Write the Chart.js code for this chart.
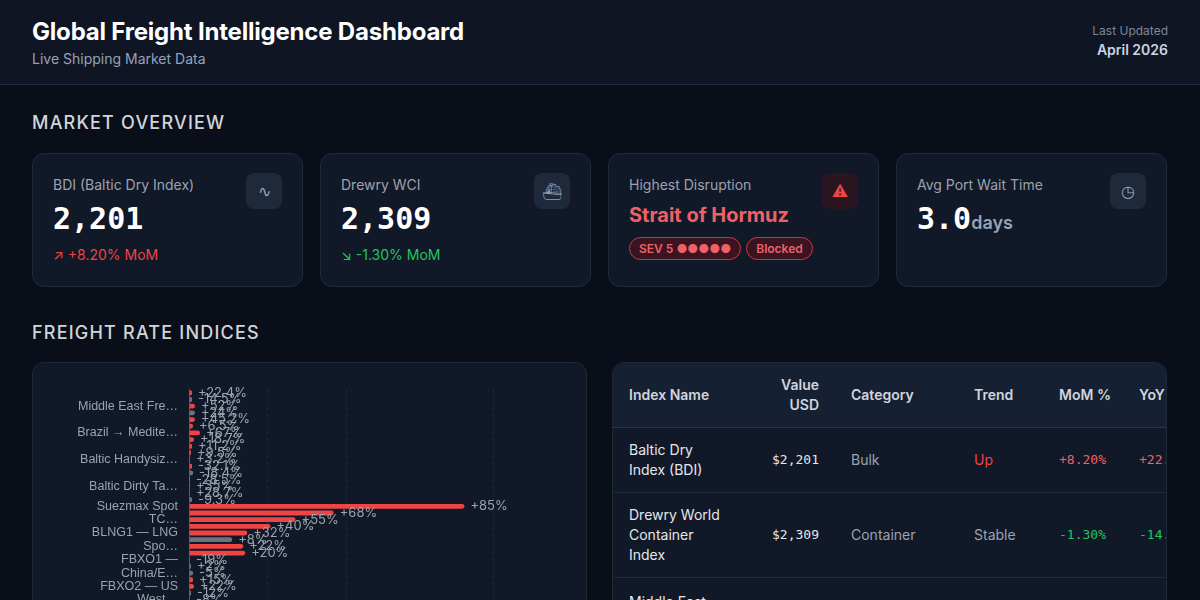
<!DOCTYPE html>
<html>
<head>
<meta charset="utf-8">
<script src="https://cdn.jsdelivr.net/npm/chart.js@4"></script>
<style>
  * { box-sizing: border-box; margin: 0; padding: 0; }
  body { width: 1200px; height: 600px; overflow: hidden; background: #0a0e19; font-family: Inter, "Noto Sans", sans-serif; color: #e5e7eb; }
  header { height: 85px; background: #0f1523; border-bottom: 1px solid #1e293b; padding: 17px 32px; display: flex; justify-content: space-between; }
  h1 { font-size: 24px; font-weight: 700; color: #fff; letter-spacing: -0.2px; }
  .sub { font-size: 14px; color: #94a3b8; margin-top: 4px; }
  .upd { text-align: right; padding-top: 6px; }
  .upd .l { font-size: 12px; color: #7c8798; }
  .upd .d { font-size: 14px; color: #cbd5e1; font-weight: 600; margin-top: 3px; }
  main { padding: 0 32px; }
  h2 { font-size: 18px; font-weight: 500; letter-spacing: 1.2px; color: #d1d5db; margin-top: 27px; height: 20px; }
  .cards { display: grid; grid-template-columns: repeat(4, 271px); gap: 17px; margin-top: 21px; }
  .card { height: 134px; background: #111827; border: 1px solid #1f2937; border-radius: 12px; padding: 22px 20px; position: relative; }
  .card .t { font-size: 14px; color: #9ca3af; }
  .card .v { font-family: "DejaVu Sans Mono", monospace; font-size: 30px; font-weight: 700; color: #fff; margin-top: 8px; }
  .card .v small { font-family: Inter, sans-serif; font-size: 18px; color: #94a3b8; font-weight: 600; }
  .card .c { font-size: 14px; margin-top: 10px; }
  .icon { position: absolute; right: 20px; top: 19px; width: 36px; height: 36px; border-radius: 8px; background: #1e293b; color: #94a3b8; display: flex; align-items: center; justify-content: center; font-size: 16px; }
  .red { color: #ef4444; } .green { color: #22c55e; }
  .hz { font-size: 20px; font-weight: 700; color: #f06166; margin-top: 10px; }
  .pill { display: inline-block; font-size: 12px; color: #f06166; border: 1px solid #c33b42; background: #3a1420; border-radius: 12px; padding: 3px 9px; margin-top: 10px; margin-right: 5px; font-weight: 600; }
  .row { display: flex; gap: 25px; margin-top: 20px; }
  .box { background: #111827; border: 1px solid #1f2937; border-radius: 12px; height: 320px; }
  .chartbox { width: 555px; position: relative; }
  .chartwrap { position: absolute; left: 0; top: 16px; width: 555px; height: 288px; }
  .tablebox { width: 555px; overflow: hidden; }
  table { border-collapse: collapse; font-size: 14px; width: 680px; table-layout: fixed; }
  th { text-align: left; background: #152033; font-weight: 600; color: #d1d5db; height: 64px; padding: 0 16px; border-bottom: 1px solid #2a3648; white-space: nowrap; }
  td { padding: 0 16px; color: #e5e7eb; border-bottom: 1px solid #1f2937; line-height: 20px; }
  .mono { font-family: "DejaVu Sans Mono", monospace; font-size: 13px; white-space: nowrap; }
</style>
</head>
<body>
<header>
  <div><h1>Global Freight Intelligence Dashboard</h1><div class="sub">Live Shipping Market Data</div></div>
  <div class="upd"><div class="l">Last Updated</div><div class="d">April 2026</div></div>
</header>
<main>
  <h2>MARKET OVERVIEW</h2>
  <div class="cards">
    <div class="card"><div class="t">BDI (Baltic Dry Index)</div><div class="v">2,201</div><div class="c red">↗ +8.20% MoM</div><div class="icon">∿</div></div>
    <div class="card"><div class="t">Drewry WCI</div><div class="v">2,309</div><div class="c green">↘ -1.30% MoM</div><div class="icon">⛴</div></div>
    <div class="card"><div class="t">Highest Disruption</div><div class="hz">Strait of Hormuz</div><span class="pill">SEV 5 ●●●●●</span><span class="pill">Blocked</span><div class="icon" style="background:#2a1520;color:#ef4444">⚠</div></div>
    <div class="card"><div class="t">Avg Port Wait Time</div><div class="v">3.0<small>days</small></div><div class="icon">◷</div></div>
  </div>
  <h2 style="margin-top:35px">FREIGHT RATE INDICES</h2>
  <div class="row">
    <div class="box chartbox"><div class="chartwrap"><canvas id="rateChart"></canvas></div></div>
    <div class="box tablebox">
      <table>
        <colgroup><col style="width:130px"><col style="width:92px"><col style="width:123px"><col style="width:85px"><col style="width:80px"><col style="width:170px"></colgroup>
        <tr><th>Index Name</th><th style="text-align:right;line-height:20px">Value<br>USD</th><th>Category</th><th>Trend</th><th>MoM %</th><th>YoY %</th></tr>
        <tr style="height:65px"><td>Baltic Dry<br>Index (BDI)</td><td class="mono" style="text-align:right">$2,201</td><td style="color:#9ca3af">Bulk</td><td class="red">Up</td><td class="mono" style="color:#f06166">+8.20%</td><td class="mono" style="color:#f06166">+22.40%</td></tr>
        <tr style="height:85px"><td>Drewry World<br>Container<br>Index</td><td class="mono" style="text-align:right">$2,309</td><td style="color:#9ca3af">Container</td><td style="color:#9ca3af">Stable</td><td class="mono green">-1.30%</td><td class="mono green">-14.50%</td></tr>
        <tr style="height:85px"><td style="vertical-align:top;padding-top:14px">Middle East<br>Freight</td><td></td><td></td><td></td><td></td><td></td></tr>
      </table>
    </div>
  </div>
</main>
<script>
const categories = [
  'Capesize 5TC', 'Panamax 4TC', 'Middle East Freight Index', 'Supramax 10TC', 'Asia → Europe', 'US Gulf → China',
  'Brazil → Mediterranean', 'Transpacific', 'Asia → USWC', 'Asia → USEC', 'Baltic Handysize Index', 'Intra-Asia',
  'Rotterdam → Shanghai', 'Baltic Clean Tanker', 'Baltic Dirty Tanker Index', 'VLCC TD3C', 'Aframax Spot',
  'Suezmax Spot', 'TD20', 'TC2 — Clean Products', 'TC14', 'BLNG1 — LNG', 'BLPG1', 'Spot LNG Atlantic', 'VLGC Spot',
  'FBXO1 — China/East Asia', 'FBX02', 'China/East Asia → N. Europe', 'FBX03', 'FBXO2 — US', 'FBX11',
  'West Coast North America', 'FBX12', 'FBX13', 'FBX21', 'FBX22', 'FBX24', 'FBX26', 'FBX41', 'FBX42'
];
const shownLabels = {
  2: 'Middle East Fre…', 6: 'Brazil → Medite…', 10: 'Baltic Handysiz…', 14: 'Baltic Dirty Ta…',
  17: 'Suezmax Spot', 19: 'TC…', 21: 'BLNG1 — LNG', 23: 'Spo…', 25: 'FBXO1 —', 27: 'China/E…',
  29: 'FBXO2 — US', 31: 'West…', 33: 'FBX13', 35: 'FBX22', 37: 'FBX26', 39: 'FBX42'
};
const barValues = [3, 3, 6, 6, 6, 4, 11, 5, 3, 2, 1, 3, 4, 1, 1, 1, 3, 274, 144, 106, 81, 58, 43, 54, 56,
  1, 2, 4, 4, 5, 2, 1, 3, 2, 4, 3, 2, 3, 2, 3];
const changeLabels = ['+22.4%', '-14.5%', '+52%', '+24%', '+45.2%', '+6.5%', '+67%', '+18.7%', '+11.2%', '+9.5%',
  '+3.2%', '-32.1%', '-18.4%', '-28.5%', '+35%', '+28.7%', '-9.3%', '+85%', '+68%', '+55%', '+40%', '+32%', '+8%',
  '+22%', '+20%', '-19%', '+2%', '-5%', '+15%', '+22%', '-12%', '-8%', '+4%', '-3%', '+6%', '+5%', '-2%', '+7%', '-4%', '+3%'];
const trendKinds = ['up', 'flat', 'up', 'flat', 'up', 'up', 'up', 'up', 'up', 'up', 'up', 'up', 'flat', 'down', 'up',
  'up', 'flat', 'up', 'up', 'up', 'up', 'up', 'flat', 'up', 'up', 'flat', 'flat', 'flat', 'up', 'up', 'flat', 'flat',
  'up', 'flat', 'up', 'up', 'flat', 'up', 'flat', 'up'];
const gridTicks = [0, 78, 157, 303];
const trendColors = { up: '#ef4444', flat: '#6b7280', down: '#22c55e' };

const barLabelPlugin = {
  id: 'barLabels',
  afterDatasetsDraw(chart) {
    const ctx = chart.ctx;
    const meta = chart.getDatasetMeta(0);
    ctx.save();
    ctx.font = '13px Inter, sans-serif';
    ctx.fillStyle = '#9ca3af';
    ctx.textBaseline = 'middle';
    meta.data.forEach((bar, i) => {
      ctx.fillText(changeLabels[i], bar.x + 6, bar.y);
    });
    ctx.restore();
  }
};

new Chart(document.getElementById('rateChart'), {
  type: 'bar',
  data: {
    labels: categories,
    datasets: [{
      data: barValues,
      backgroundColor: trendKinds.map(k => trendColors[k]),
      borderRadius: 3,
      barPercentage: 0.8,
      categoryPercentage: 0.9
    }]
  },
  plugins: [barLabelPlugin],
  options: {
    indexAxis: 'y',
    responsive: true,
    maintainAspectRatio: false,
    animation: false,
    layout: { padding: { left: 0, right: 16, top: 2 } },
    plugins: { legend: { display: false }, tooltip: { enabled: false } },
    scales: {
      x: {
        min: 0, max: 381,
        afterBuildTicks: axis => { axis.ticks = gridTicks.map(v => ({ value: v })); },
        grid: { color: 'rgba(148,163,184,0.12)', drawTicks: false },
        border: { display: false, dash: [3, 3] },
        ticks: { display: false }
      },
      y: {
        afterFit: axis => { axis.width = 156; },
        grid: { display: false },
        border: { color: '#4b5563' },
        ticks: {
          autoSkip: false,
          color: '#9ca3af',
          font: { size: 12.5 },
          callback: (v, i) => shownLabels[i] || ''
        }
      }
    }
  }
});
</script>
</body>
</html>
